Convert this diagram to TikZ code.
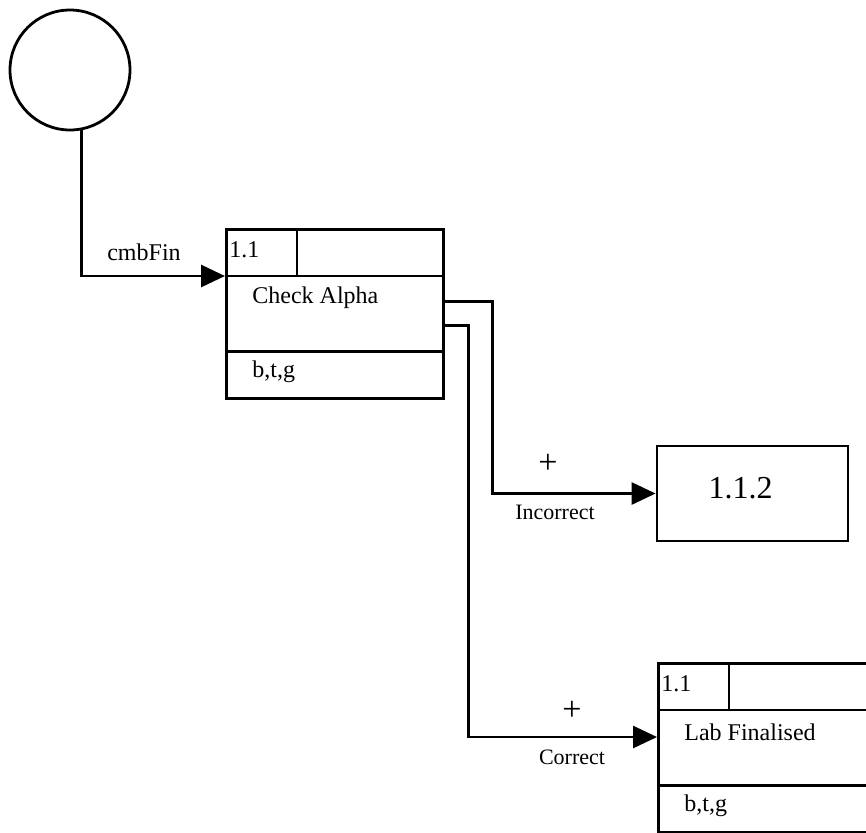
\documentclass[tikz,border=0pt]{standalone}
\usepackage{fontspec}
\setmainfont{Liberation Serif}
\usetikzlibrary{arrows.meta}

\tikzset{
flow/.style={line width=1.4pt,-{Triangle[length=12pt,width=11pt]}},
procbox/.style={draw,line width=1.4pt,
minimum width=108.5pt,
minimum height=84.5pt,
anchor=north west},
plus/.style={font=\fontsize{17}{19}\selectfont}
}

\begin{document}
\begin{tikzpicture}[x=0.5pt,y=-0.5pt,font=\fontsize{12}{14}\selectfont]

\useasboundingbox (0,0) rectangle (866,832);
\clip (0,0) rectangle (866,832);

% Source
\node[draw,circle,line width=1.4pt,
minimum size=60pt,inner sep=0pt]
(src)
at (70,70)
{};

% Check Alpha, Lab Finalised
\node[procbox] (ca) at (225,228) {};
\node[procbox] (lf) at (657,662) {};

\foreach \b/\t in {ca/Check Alpha,lf/Lab Finalised}
{
\draw[line width=1.4pt] ([yshift=-24pt]\b.north west) -- ([yshift=-24pt]\b.north east);
\draw[line width=1.4pt] ([yshift=24pt]\b.south west) -- ([yshift=24pt]\b.south east);
\draw[line width=1.4pt] ([xshift=36pt]\b.north west) -- ([xshift=36pt,yshift=-24pt]\b.north west);
\node[anchor=west,inner sep=0pt] (\b id) at ([xshift=2pt,yshift=-11pt]\b.north west) {1.1};
\node[anchor=west,inner sep=0pt] (\b txt) at ([xshift=13.5pt,yshift=-35pt]\b.north west) {\t};
\node[anchor=west,inner sep=0pt] (\b res) at ([xshift=13.5pt,yshift=-72pt]\b.north west) {b,t,g};
}

% 1.1.2
\node[draw,line width=1.4pt,
minimum width=95.5pt,
minimum height=47.5pt]
(err)
at (752.5,493.5)
{};
\node[font=\fontsize{16}{18}\selectfont]
(errid)
at ([xshift=-6pt,yshift=2.75pt]err.center)
{1.1.2};

% Fleches
\draw[flow] (src.-79) |- ([yshift=-24pt]ca.north west);
\draw[flow] ([yshift=6.25pt]ca.east) -- ++(24pt,0) |- (err.west);
\draw[flow] ([yshift=-5.75pt]ca.east) -- ++(12pt,0) |- ([yshift=-37.5pt]lf.north west);

% Labels
\node (cmb) at (144,252) {cmbFin};
\node[plus] (p1) at (548,464) {+};
\node[font=\fontsize{11}{13}\selectfont] (inc) at (555,512) {Incorrect};
\node[plus] (p2) at (572,711) {+};
\node[font=\fontsize{11}{13}\selectfont] (cor) at (572,757) {Correct};

\end{tikzpicture}
\end{document}
